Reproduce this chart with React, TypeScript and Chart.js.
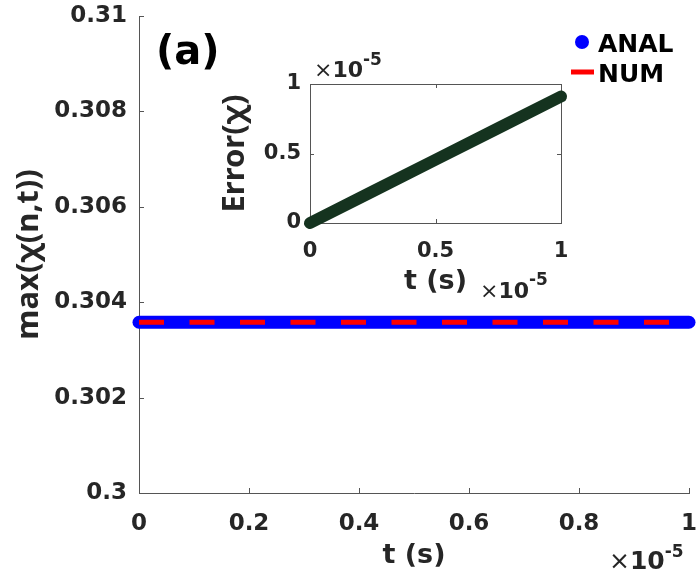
import React, { useEffect, useRef } from 'react';
import { Chart, registerables } from 'chart.js';
Chart.register(...registerables);

// ---------- data ----------
const tMain = [0, 0.1, 0.2, 0.3, 0.4, 0.5, 0.6, 0.7, 0.8, 0.9, 1];
const analValues = [0.30358, 0.30358, 0.30358, 0.30358, 0.30358, 0.30358, 0.30358, 0.30358, 0.30358, 0.30358, 0.30358];
const numValues = [0.30358, 0.30358, 0.30358, 0.30358, 0.30358, 0.30358, 0.30358, 0.30358, 0.30358, 0.30358, 0.30358];
const tInset = [0, 0.25, 0.5, 0.75, 1];
const errorValues = [0, 0.228, 0.455, 0.683, 0.91];
const mainXTickLabels = ['0', '0.2', '0.4', '0.6', '0.8', '1'];
const mainYTickLabels = ['0.3', '0.302', '0.304', '0.306', '0.308', '0.31'];
const insetTickLabels = ['0', '0.5', '1'];
const seriesNames = ['ANAL', 'NUM'];
const panelLabel = '(a)';
const mainXTitle = 't (s)';
const mainYTitle = 'max(χ(n,t))';
const insetXTitle = 't (s)';
const insetYTitle = 'Error(χ)';
const expBase = '10';
const expPower = '-5';

const FONT = '"DejaVu Sans", "Liberation Sans", sans-serif';
const VFONT = '"Noto Sans", "Liberation Sans", sans-serif';
const TEXT = '#262626';
const AXIS = '#555555';

function drawExp(ctx: CanvasRenderingContext2D, x: number, y: number, size: number, supSize: number, supDy: number) {
  ctx.save();
  ctx.fillStyle = TEXT;
  ctx.textAlign = 'left';
  ctx.textBaseline = 'alphabetic';
  ctx.font = `${size}px ${FONT}`;
  ctx.fillText('×', x, y);
  let cx = x + ctx.measureText('×').width;
  ctx.font = `bold ${size}px ${FONT}`;
  ctx.fillText(expBase, cx, y);
  cx += ctx.measureText(expBase).width;
  ctx.font = `bold ${supSize}px ${FONT}`;
  ctx.fillText(expPower, cx, y - supDy);
  ctx.restore();
}

function drawInwardTicks(chart: any, len: number, box: boolean) {
  const { ctx, chartArea: a } = chart;
  const xs = chart.scales.x;
  const ys = chart.scales.y;
  ctx.save();
  ctx.strokeStyle = AXIS;
  ctx.lineWidth = 1;
  ctx.beginPath();
  xs.ticks.forEach((t: any) => {
    const px = Math.round(xs.getPixelForValue(t.value)) + 0.5;
    ctx.moveTo(px, a.bottom);
    ctx.lineTo(px, a.bottom - len);
    if (box) {
      ctx.moveTo(px, a.top);
      ctx.lineTo(px, a.top + len);
    }
  });
  ys.ticks.forEach((t: any) => {
    const py = Math.round(ys.getPixelForValue(t.value)) + 0.5;
    ctx.moveTo(a.left, py);
    ctx.lineTo(a.left + len, py);
    if (box) {
      ctx.moveTo(a.right, py);
      ctx.lineTo(a.right - len, py);
    }
  });
  if (box) {
    ctx.moveTo(a.left, Math.round(a.top) + 0.5);
    ctx.lineTo(a.right, Math.round(a.top) + 0.5);
    ctx.moveTo(Math.round(a.right) + 0.5, a.top);
    ctx.lineTo(Math.round(a.right) + 0.5, a.bottom);
  }
  ctx.stroke();
  ctx.restore();
}

const mainDecor = {
  id: 'mainDecor',
  beforeDatasetsDraw(chart: any) {
    drawInwardTicks(chart, 5, false);
  },
  afterDraw(chart: any) {
    const ctx = chart.ctx as CanvasRenderingContext2D;
    ctx.save();
    // panel label
    ctx.fillStyle = '#000';
    ctx.font = `bold 40px ${FONT}`;
    ctx.textAlign = 'left';
    ctx.textBaseline = 'alphabetic';
    ctx.fillText(panelLabel, 156, 64);
    // legend
    ctx.fillStyle = '#0000FF';
    ctx.beginPath();
    ctx.arc(582, 42, 7, 0, Math.PI * 2);
    ctx.fill();
    ctx.strokeStyle = '#FF0000';
    ctx.lineWidth = 5;
    ctx.beginPath();
    ctx.moveTo(571, 72);
    ctx.lineTo(594, 72);
    ctx.stroke();
    ctx.fillStyle = '#000';
    ctx.font = `bold 25px ${FONT}`;
    ctx.fillText(seriesNames[0], 598, 52);
    ctx.fillText(seriesNames[1], 598, 82);
    ctx.restore();
    drawExp(ctx, 609, 569, 25, 17, 12);
  },
};

const insetDecor = {
  id: 'insetDecor',
  beforeDatasetsDraw(chart: any) {
    drawInwardTicks(chart, 4, true);
  },
  afterDraw(chart: any) {
    const ctx = chart.ctx as CanvasRenderingContext2D;
    drawExp(ctx, 114, 37, 22, 17, 12);
    drawExp(ctx, 280, 258, 22, 17, 13);
  },
};

function zeroVPad(s: any) {
  s.paddingTop = 0;
  s.paddingBottom = 0;
}
function zeroHPad(s: any) {
  s.paddingLeft = 0;
  s.paddingRight = 0;
}

const noGrid = { display: false, drawTicks: false, tickLength: 0 };

export default function App() {
  const mainRef = useRef<HTMLCanvasElement>(null);
  const insetRef = useRef<HTMLCanvasElement>(null);

  useEffect(() => {
    const tickFont = { family: FONT, size: 23, weight: 'bold' as const };
    const main = new Chart(mainRef.current!, {
      type: 'line',
      data: {
        datasets: [
          {
            label: seriesNames[0],
            data: tMain.map((t, i) => ({ x: t, y: analValues[i] })),
            borderColor: '#0000FF',
            borderWidth: 13,
            borderCapStyle: 'round',
            pointRadius: 0,
            order: 2,
            clip: false as any,
          },
          {
            label: seriesNames[1],
            data: tMain.map((t, i) => ({ x: t, y: numValues[i] })),
            borderColor: '#FF0000',
            borderWidth: 5,
            borderDash: [25, 25.5],
            borderCapStyle: 'butt',
            pointRadius: 0,
            order: 1,
            clip: false as any,
          },
        ],
      },
      options: {
        animation: false,
        responsive: false,
        devicePixelRatio: 1,
        layout: { padding: { left: 0, top: 16, right: 8, bottom: 0 } },
        plugins: { legend: { display: false }, tooltip: { enabled: false } },
        scales: {
          x: {
            type: 'linear',
            min: 0,
            max: 1,
            grid: noGrid,
            border: { display: true, color: AXIS, width: 1 },
            ticks: {
              stepSize: 0.2,
              color: TEXT,
              font: tickFont,
              padding: 17,
              maxRotation: 0,
              callback: (_v: any, i: number) => mainXTickLabels[i],
            },
            title: {
              display: true,
              text: mainXTitle,
              color: TEXT,
              font: { family: FONT, size: 27, weight: 'bold' },
              padding: { top: 0, bottom: 6 },
            },
            afterFit: (s: any) => {
              s.height = 85;
              zeroHPad(s);
            },
          },
          y: {
            type: 'linear',
            min: 0.3,
            max: 0.31,
            grid: noGrid,
            border: { display: true, color: AXIS, width: 1 },
            ticks: {
              stepSize: 0.002,
              color: TEXT,
              font: tickFont,
              padding: 12,
              callback: (_v: any, i: number) => mainYTickLabels[i],
            },
            title: {
              display: true,
              text: mainYTitle,
              color: TEXT,
              font: { family: VFONT, size: 31, weight: 'bold' },
              padding: { top: 11, bottom: 0 },
            },
            afterFit: (s: any) => {
              s.width = 139;
              zeroVPad(s);
            },
          },
        },
      },
      plugins: [mainDecor],
    });

    const insetFont = { family: FONT, size: 21, weight: 'bold' as const };
    const inset = new Chart(insetRef.current!, {
      type: 'line',
      data: {
        datasets: [
          {
            label: insetYTitle,
            data: tInset.map((t, i) => ({ x: t, y: errorValues[i] })),
            borderColor: '#15331F',
            borderWidth: 12,
            borderCapStyle: 'round',
            pointRadius: 0,
            clip: false as any,
          },
        ],
      },
      options: {
        animation: false,
        responsive: false,
        devicePixelRatio: 1,
        layout: { padding: { left: 0, top: 44, right: 19, bottom: 0 } },
        plugins: { legend: { display: false }, tooltip: { enabled: false } },
        scales: {
          x: {
            type: 'linear',
            min: 0,
            max: 1,
            grid: noGrid,
            border: { display: true, color: AXIS, width: 1 },
            ticks: {
              stepSize: 0.5,
              color: TEXT,
              font: insetFont,
              padding: 16,
              maxRotation: 0,
              callback: (_v: any, i: number) => insetTickLabels[i],
            },
            title: {
              display: true,
              text: insetXTitle,
              color: TEXT,
              font: { family: FONT, size: 27, weight: 'bold' },
              padding: { top: 0, bottom: 12 },
            },
            afterFit: (s: any) => {
              s.height = 87;
              zeroHPad(s);
            },
          },
          y: {
            type: 'linear',
            min: 0,
            max: 1,
            grid: noGrid,
            border: { display: true, color: AXIS, width: 1 },
            ticks: {
              stepSize: 0.5,
              color: TEXT,
              font: insetFont,
              padding: 9,
              callback: (_v: any, i: number) => insetTickLabels[i],
            },
            title: {
              display: true,
              text: insetYTitle,
              color: TEXT,
              font: { family: VFONT, size: 31, weight: 'bold' },
              padding: { top: 17, bottom: 0 },
            },
            afterFit: (s: any) => {
              s.width = 110;
              zeroVPad(s);
            },
          },
        },
      },
      plugins: [insetDecor],
    });

    return () => {
      main.destroy();
      inset.destroy();
    };
  }, []);

  return (
    <div style={{ position: 'fixed', left: 0, top: 0, width: 697, height: 578, background: '#fff' }}>
      <canvas ref={mainRef} width={697} height={578} style={{ position: 'absolute', left: 0, top: 0 }} />
      <canvas ref={insetRef} width={380} height={270} style={{ position: 'absolute', left: 200, top: 40 }} />
    </div>
  );
}
